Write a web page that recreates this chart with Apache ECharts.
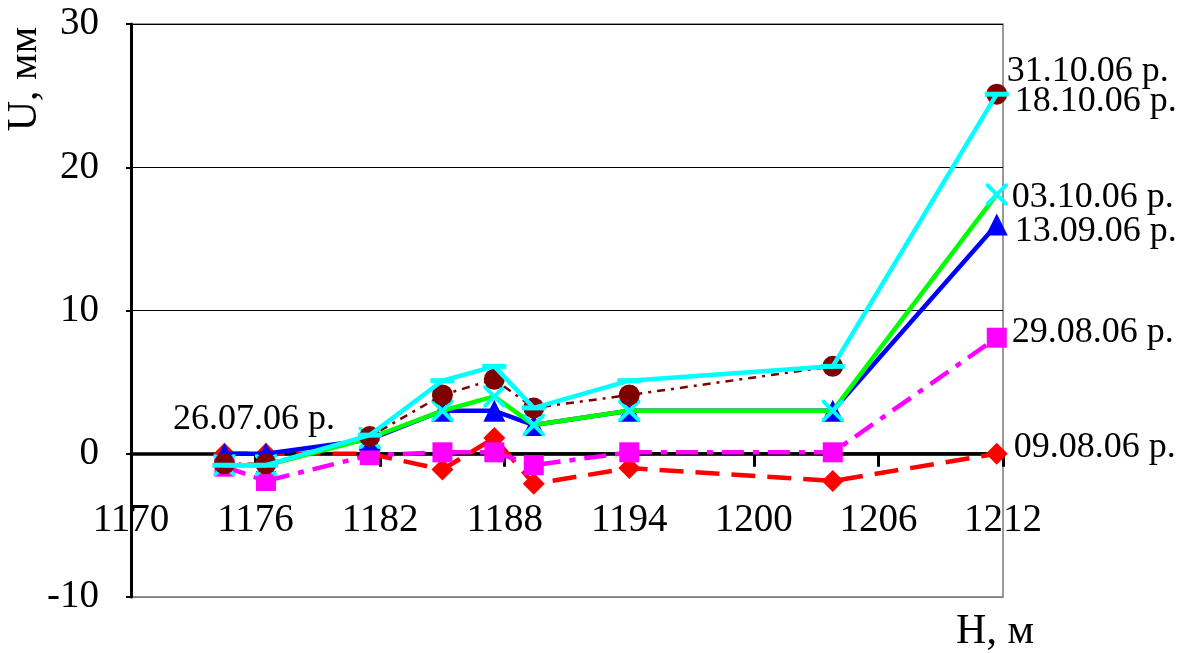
<!DOCTYPE html>
<html>
<head>
<meta charset="utf-8">
<script src="https://cdn.jsdelivr.net/npm/echarts@6/dist/echarts.min.js"></script>
<style>
html,body{margin:0;padding:0;background:#fff;}
#chart{width:1186px;height:653px;}
</style>
</head>
<body>
<div id="chart"></div>
<script>
// ---- data ----
const heights = [1174.5, 1176.5, 1181.5, 1185, 1187.5, 1189.4, 1194, 1203.8, 1211.7];
const u_260706 = [0, 0, 0, 0, 0, 0, 0, 0, 0];
const u_090806 = [0, 0, 0, -1.1, 1.1, -2.1, -1, -1.9, 0];
const u_290806 = [-0.9, -1.9, -0.1, 0.1, 0.1, -0.8, 0.1, 0.1, 8.1];
const u_130906 = [0, 0, 1, 3, 3, 2, 3, 3, 16];
const u_031006 = [-0.8, -0.8, 1.1, 3, 4, 2, 3, 3, 18.1];
const u_311006 = [-0.7, -0.7, 1.2, 4.1, 5.2, 3.2, 4.1, 6.1, 25.1];
const u_181006 = [-0.8, -0.8, 1.3, 5.1, 6.1, 3.2, 5.1, 6.1, 25.1];
const names = ['26.07.06 р.', '09.08.06 р.', '29.08.06 р.', '13.09.06 р.', '03.10.06 р.', '31.10.06 р.', '18.10.06 р.'];
const xTicks = {min: 1170, max: 1212, interval: 6};
const yTicks = {min: -10, max: 30, interval: 10};
const xName = 'Н, м';
const yName = 'U, мм';

// ---- styling ----
const FONT = '"Liberation Serif", "Times New Roman", serif';
const X_SYMBOL = 'path://M0,0L2.5,0L10,7.5L17.5,0L20,0L20,2.5L12.5,10L20,17.5L20,20L17.5,20L10,12.5L2.5,20L0,20L0,17.5L7.5,10L0,2.5Z';

// label placement: [point index, align, dx, dy]
const labelPlace = [
  [1, 'center', -12, -34],
  [8, 'left', 17, -6],
  [8, 'left', 15, -5],
  [8, 'left', 18, 7],
  [8, 'left', 15, 3],
  [8, 'left', 10, -23],
  [8, 'left', 18, 7]
];
const styles = [
  {line: '#000000', item: '#000000', width: 3, type: 'solid', symbol: 'circle', size: 1},
  {line: '#ff0000', item: '#ff0000', width: 4.5, type: [24, 12], symbol: 'diamond', size: 22},
  {line: '#ff00ff', item: '#ff00ff', width: 4.5, type: [22, 9, 6, 9], symbol: 'rect', size: 20},
  {line: '#0000ff', item: '#0000ff', width: 4.5, type: 'solid', symbol: 'triangle', size: 22},
  {line: '#00ff00', item: '#00ffff', width: 4.5, type: 'solid', symbol: X_SYMBOL, size: 22},
  {line: '#800000', item: '#7f0000', width: 2.5, type: [8, 6, 3, 6], symbol: 'circle', size: 21},
  {line: '#00ffff', item: '#00ffff', width: 4.5, type: 'solid', symbol: 'rect', size: [24, 5]}
];
const values = [u_260706, u_090806, u_290806, u_130906, u_031006, u_311006, u_181006];

const series = values.map((vals, si) => {
  const st = styles[si];
  const lp = labelPlace[si];
  const data = heights.map((h, i) => {
    const item = {value: [h, vals[i]]};
    if (i === lp[0]) {
      item.label = {
        show: true,
        position: 'inside',
        align: lp[1],
        verticalAlign: 'middle',
        offset: [lp[2], lp[3]],
        formatter: names[si],
        color: '#000',
        fontFamily: FONT,
        fontSize: 36
      };
    }
    return item;
  });
  return {
    name: names[si],
    type: 'line',
    data: data,
    symbol: st.symbol,
    symbolSize: st.size,
    showSymbol: true,
    lineStyle: {color: st.line, width: st.width, type: st.type},
    itemStyle: {color: st.item},
    label: {show: false},
    emphasis: {disabled: true},
    z: 2 + si
  };
});

const chart = echarts.init(document.getElementById('chart'), null, {renderer: 'canvas'});
chart.setOption({
  animation: false,
  backgroundColor: '#fff',
  grid: {
    left: 131, right: 183, top: 24, bottom: 56,
    outerBoundsMode: 'none', containLabel: false,
    show: true, borderColor: '#7a7a7a', borderWidth: 1.5, backgroundColor: 'transparent'
  },
  xAxis: {
    type: 'value',
    min: xTicks.min, max: xTicks.max, interval: xTicks.interval,
    position: 'bottom',
    axisLine: {show: true, onZero: false, lineStyle: {color: '#000', width: 3.5}},
    axisTick: {show: true, length: 13, lineStyle: {color: '#000', width: 3}},
    axisLabel: {color: '#000', fontFamily: FONT, fontSize: 39, margin: 47, formatter: v => String(v)},
    splitLine: {show: false}
  },
  yAxis: {
    type: 'value',
    min: yTicks.min, max: yTicks.max, interval: yTicks.interval,
    axisLine: {show: true, onZero: false, lineStyle: {color: '#000', width: 3}},
    axisTick: {show: true, length: 5, lineStyle: {color: '#000', width: 2}},
    axisLabel: {color: '#000', fontFamily: FONT, fontSize: 39, margin: 32, formatter: v => String(v)},
    splitLine: {show: true, lineStyle: {color: ['#7a7a7a', '#000', '#000', '#000', '#000'], width: 1}}
  },
  graphic: [
    {type: 'text', x: 25, y: 79, rotation: Math.PI / 2,
     style: {text: yName, x: 0, y: 0, align: 'center', verticalAlign: 'middle', fill: '#000', font: '42px ' + FONT}},
    {type: 'text', x: 995, y: 632,
     style: {text: xName, x: 0, y: 0, align: 'center', verticalAlign: 'middle', fill: '#000', font: '42px ' + FONT}}
  ],
  series: series
});
// place the x axis on the y = 0 line, using the library's own y scale
const yZero = chart.convertToPixel({yAxisIndex: 0}, 0);
const yMin = chart.convertToPixel({yAxisIndex: 0}, yTicks.min);
chart.setOption({xAxis: {offset: yZero - yMin}});
</script>
</body>
</html>
